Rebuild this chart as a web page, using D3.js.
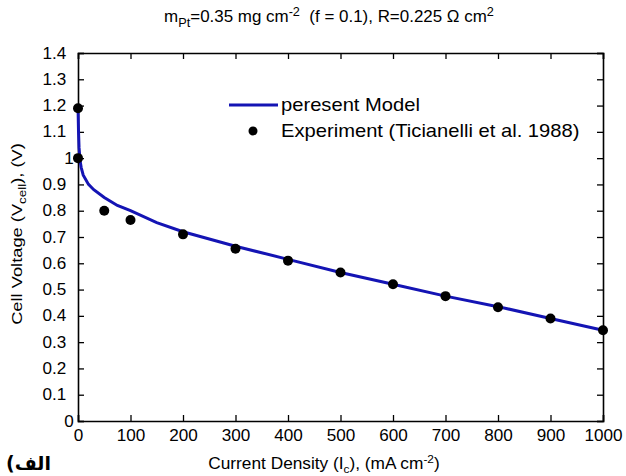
<!DOCTYPE html>
<html><head><meta charset="utf-8">
<script src="https://cdn.jsdelivr.net/npm/d3@7"></script>
<style>body{margin:0;background:#fff}text{font-family:"Liberation Sans",Arial,sans-serif}</style>
</head><body><svg id="c" width="626" height="476"></svg>
<script>
const xTicks = [0,100,200,300,400,500,600,700,800,900,1000];
const yTicks = [0,0.1,0.2,0.3,0.4,0.5,0.6,0.7,0.8,0.9,1,1.1,1.2,1.3,1.4];
const modelI = [0,1,2,4,6,10,20,30,50,75,100,150,200,300,400,500,600,700,800,900,1000];
const modelV = [1.2,1.10,1.04,0.99,0.965,0.935,0.90,0.88,0.85,0.82,0.80,0.755,0.72,0.665,0.615,0.565,0.52,0.475,0.435,0.39,0.345];
const expI = [0,0,50,100,200,300,400,500,600,700,800,900,1000];
const expV = [1.19,1.0,0.80,0.765,0.71,0.655,0.61,0.565,0.52,0.475,0.433,0.39,0.345];

const svg = d3.select("#c");
const L=78,R=603,T=53,B=421;
const x = d3.scaleLinear().domain([0,1000]).range([L,R]);
const y = d3.scaleLinear().domain([0,1.4]).range([B,T]);
const fmt = d => d3.format("~g")(d);
const FF = '"Liberation Sans",Arial,sans-serif';

const gx = svg.append("g").attr("transform",`translate(0,${B})`)
  .call(d3.axisBottom(x).tickValues(xTicks).tickFormat(fmt).tickSize(-6).tickPadding(6));
const gy = svg.append("g").attr("transform",`translate(${L},0)`)
  .call(d3.axisLeft(y).tickValues(yTicks).tickFormat(fmt).tickSize(-6).tickPadding(11));
svg.append("g").attr("transform",`translate(0,${T})`)
  .call(d3.axisTop(x).tickValues(xTicks).tickFormat("").tickSize(-6));
svg.append("g").attr("transform",`translate(${R},0)`)
  .call(d3.axisRight(y).tickValues(yTicks).tickFormat("").tickSize(-6));
svg.selectAll(".domain").attr("stroke","#000").attr("stroke-width",1.6);
svg.selectAll(".tick line").attr("stroke","#000").attr("stroke-width",1.3);
svg.selectAll(".tick text").attr("font-size",16).attr("fill","#000")
  .style("font-family",FF).attr("transform","scale(1.07,1)");
gx.selectAll(".tick text").attr("dy","0.85em");
gy.selectAll(".tick text").filter(d => d===0 || d===1).attr("dx",7);

const line = d3.line().x(d=>x(d[0])).y(d=>y(d[1]));
svg.append("path").datum(modelI.map((v,i)=>[v,modelV[i]]))
  .attr("d",line).attr("fill","none").attr("stroke","#1414b4").attr("stroke-width",3);

svg.append("g").selectAll("circle").data(expI.map((v,i)=>[v,expV[i]])).join("circle")
  .attr("cx",d=>x(d[0])).attr("cy",d=>y(d[1])).attr("r",5).attr("fill","#000");

// legend
svg.append("line").attr("x1",229).attr("x2",278).attr("y1",105).attr("y2",105)
  .attr("stroke","#1414b4").attr("stroke-width",3);
svg.append("text").attr("transform","translate(281,111) scale(1.12,1)").attr("font-size",18).text("peresent Model");
svg.append("circle").attr("cx",253).attr("cy",131).attr("r",4.5).attr("fill","#000");
svg.append("text").attr("transform","translate(281,137) scale(1.12,1)").attr("font-size",18).text("Experiment (Ticianelli et al. 1988)");

// title
const t = svg.append("text").attr("transform","translate(329,22) scale(1.06,1)").attr("text-anchor","middle")
  .attr("font-size",16).attr("xml:space","preserve").style("white-space","pre");
t.append("tspan").text("m");
t.append("tspan").attr("font-size",12).attr("dy",5).text("Pt");
t.append("tspan").attr("dy",-5).text("=0.35 mg cm");
t.append("tspan").attr("font-size",12).attr("dy",-6).text("-2");
t.append("tspan").attr("dy",6).text("  (f = 0.1), R=0.225 \u03A9 cm");
t.append("tspan").attr("font-size",12).attr("dy",-6).text("2");

// x label
const xl = svg.append("text").attr("transform","translate(324,469) scale(1.08,1)")
  .attr("text-anchor","middle").attr("font-size",16);
xl.append("tspan").text("Current Density (I");
xl.append("tspan").attr("font-size",11).attr("dy",4).text("c");
xl.append("tspan").attr("dy",-4).text("), (mA cm");
xl.append("tspan").attr("font-size",11).attr("dy",-6).text("-2");
xl.append("tspan").attr("dy",6).text(")");

// y label
const yl = svg.append("text").attr("transform","translate(22,234) rotate(-90) scale(1.22,1)")
  .attr("text-anchor","middle").attr("font-size",15);
yl.append("tspan").text("Cell Voltage (V");
yl.append("tspan").attr("font-size",11).attr("dy",4).text("cell");
yl.append("tspan").attr("dy",-4).text("), (V)");

svg.append("text").attr("x",6).attr("y",470).attr("font-size",19).attr("font-weight","bold")
  .style("font-family",'"DejaVu Sans",sans-serif').text("(الف");
</script></body></html>
